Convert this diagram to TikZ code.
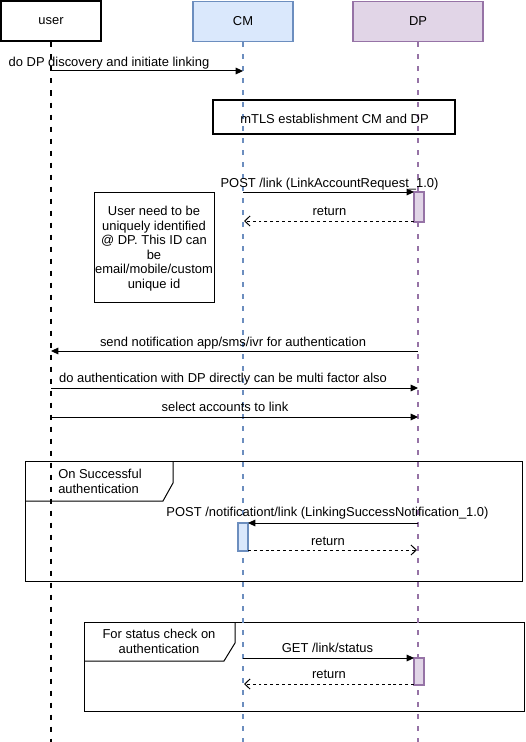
\documentclass[tikz,border=0pt]{standalone}
\usepackage{fontspec}
\setmainfont{Liberation Sans}
\usetikzlibrary{arrows.meta}
\definecolor{cmfill}{HTML}{DAE8FC}
\definecolor{cmline}{HTML}{6C8EBF}
\definecolor{dpfill}{HTML}{E1D5E7}
\definecolor{dpline}{HTML}{9673A6}
\begin{document}
\begin{tikzpicture}[x=0.75pt,y=-0.75pt,
  font=\fontsize{9.7}{10.9}\selectfont,
  actor/.style={draw, minimum width=75pt, minimum height=30pt, inner sep=0pt},
  useractor/.style={actor, line width=1.5pt, draw=black},
  cmactor/.style={actor, line width=1.1pt, draw=cmline, fill=cmfill},
  dpactor/.style={actor, minimum width=97.5pt, line width=1.1pt, draw=dpline, fill=dpfill},
  lifeline/.style={line width=1.1pt, dash pattern=on 3.75pt off 5.25pt},
  msg/.style={line width=0.75pt, -{Triangle[length=5.5pt,width=5pt]}},
  ret/.style={line width=0.75pt, dash pattern=on 2.2pt off 2.2pt, -{Straight Barb[length=4pt,width=7.5pt,line width=0.75pt]}},
  lbl/.style={inner sep=0pt, anchor=base},
  actcm/.style={draw=cmline, fill=cmfill, line width=0.9pt},
  actdp/.style={draw=dpline, fill=dpfill, line width=0.9pt},
  framebox/.style={draw, line width=0.75pt}
]
\useasboundingbox (0,0) rectangle (525,742);

% actors
\node[useractor] (user) at (51,21.5) {user};
\node[cmactor] (cm) at (243,21.5) {CM};
\node[dpactor] (dp) at (418,21.5) {DP};

% lifeline ends
\coordinate (userend) at (51,742);
\coordinate (cmend) at (243,742);
\coordinate (dpend) at (418,742);

% frames (drawn first)
\draw[framebox] (25,461) rectangle (522,581);
\draw[framebox] (25,501) -- (163,501) -- (173,483) -- (173,461);
\node[inner sep=0pt, anchor=base west] (fr1lbl) at (58,478) {On Successful};
\node[inner sep=0pt, anchor=base west] (fr1lbl2) at (58,493) {authentication};

\draw[framebox] (84,622) rectangle (524,711);
\draw[framebox] (84,661) -- (224,661) -- (235,643) -- (235,622);
\node[lbl] (fr2lbl) at (159,638) {For status check on};
\node[lbl] (fr2lbl2) at (159,653) {authentication};

% lifelines
\draw[lifeline, draw=black, line width=1.5pt] (user.south) -- (userend);
\draw[lifeline, draw=cmline] (cm.south) -- (cmend);
\draw[lifeline, draw=dpline] (dp.south) -- (dpend);

% message 1
\coordinate (m1a) at (51,71);
\coordinate (m1b) at (243,71);
\draw[msg] (m1a) -- (m1b);
\node[lbl] (m1l) at (109,67) {do DP discovery and initiate linking};

% mTLS box
\node[draw, line width=1.5pt, minimum width=181.5pt, minimum height=25.5pt, inner sep=0pt] (mtls) at (334,117) {};
\node[lbl] (mtlsl) at (334.5,123) {mTLS establishment CM and DP};

% activation 1 on DP
\node[actdp, minimum width=7.5pt, minimum height=22.5pt, inner sep=0pt] (act1) at (419,207) {};
\coordinate (m2a) at (243,192);
\coordinate (m2b) at (414,192);
\draw[msg] (m2a) -- (m2b);
\node[lbl] (m2l) at (329.5,187) {POST /link (LinkAccountRequest\_1.0)};
\coordinate (r1a) at (414,221);
\coordinate (r1b) at (244,221);
\draw[ret] (r1a) -- (r1b);
\node[lbl] (r1l) at (329.5,215.5) {return};

% note
\node[draw, line width=0.75pt, minimum width=90pt, minimum height=82.5pt, inner sep=0pt] (note) at (154,247) {};
\node[align=center, inner sep=0pt] (notetext) at (154,248.5) {User need to be\\uniquely identified\\@ DP. This ID can\\be\\email/mobile/custom\\unique id};

% notification
\coordinate (m3a) at (418,351);
\coordinate (m3b) at (51,351);
\draw[msg] (m3a) -- (m3b);
\node[lbl] (m3l) at (233,346) {send notification app/sms/ivr for authentication};

\coordinate (m4a) at (51,388);
\coordinate (m4b) at (418,388);
\draw[msg] (m4a) -- (m4b);
\node[lbl] (m4l) at (223,382.5) {do authentication with DP directly can be multi factor also};

\coordinate (m5a) at (51,417);
\coordinate (m5b) at (418,417);
\draw[msg] (m5a) -- (m5b);
\node[lbl] (m5l) at (225,411.5) {select accounts to link};

% success notification
\node[actcm, minimum width=7.5pt, minimum height=21pt, inner sep=0pt] (act2) at (243,537) {};
\coordinate (m6a) at (418,523);
\coordinate (m6b) at (248,523);
\draw[msg] (m6a) -- (m6b);
\node[lbl] (m6l) at (327.5,516.5) {POST /notificationt/link (LinkingSuccessNotification\_1.0)};
\coordinate (r2a) at (248,550);
\coordinate (r2b) at (417,550);
\draw[ret] (r2a) -- (r2b);
\node[lbl] (r2l) at (328,545) {return};

% status check
\node[actdp, minimum width=7.5pt, minimum height=20.25pt, inner sep=0pt] (act3) at (419,671.5) {};
\coordinate (m7a) at (243,658);
\coordinate (m7b) at (414,658);
\draw[msg] (m7a) -- (m7b);
\node[lbl] (m7l) at (327.5,652) {GET /link/status};
\coordinate (r3a) at (414,684);
\coordinate (r3b) at (244,684);
\draw[ret] (r3a) -- (r3b);
\node[lbl] (r3l) at (329,678) {return};
\end{tikzpicture}
\end{document}
